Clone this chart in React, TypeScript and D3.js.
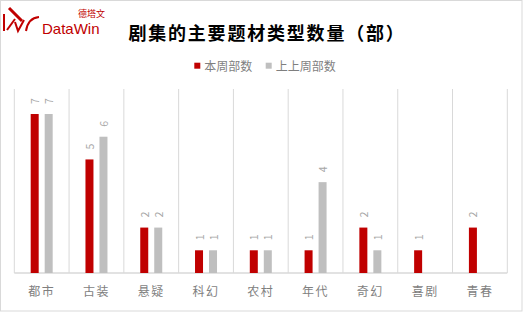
import React from "react";
import * as d3 from "d3";

const categories = ["都市", "古装", "悬疑", "科幻", "农村", "年代", "奇幻", "喜剧", "青春"];
const thisWeek = [7, 5, 2, 1, 1, 1, 2, 1, 2];
const prevWeek = [7, 6, 2, 1, 1, 4, 1, 0, 0];
const seriesNames = ["本周部数", "上上周部数"];
const seriesColors = ["#c00000", "#bfbfbf"];
const title = "剧集的主要题材类型数量（部）";

const W = 523;
const H = 312;
const plotLeft = 14.3;
const plotRight = 507.3;
const plotBottom = 273;
const plotTopValue = 91.3;
const gridTop = 89;

export default function App() {
  const x = d3.scaleBand<string>().domain(categories).range([plotLeft, plotRight]).padding(0);
  const y = d3.scaleLinear().domain([0, 8]).range([plotBottom, plotTopValue]);
  const bw = 8;
  const gap = 3;
  const series = [thisWeek, prevWeek];
  const font = "'Noto Sans CJK SC', 'Noto Sans', sans-serif";

  return (
    <svg
      width={W}
      height={H}
      style={{ position: "absolute", left: 0, top: 0, background: "#fff" }}
      fontFamily={font}
    >
      <rect x={0.5} y={0.5} width={W - 1.5} height={H - 1.5} fill="#fff" stroke="#d9d9d9" />
      {/* logo */}
      <g stroke="#c00000" fill="none" strokeLinecap="butt">
        <path d="M4,14 L4,31" strokeWidth={2} />
        <path d="M9,8 L22,21" strokeWidth={3} />
        <path d="M7,30 L15,19" strokeWidth={2} />
        <path d="M15,22 L18,31 L24,20" strokeWidth={2} />
        <path d="M26,31 Q28,18 39,17" strokeWidth={2} />
      </g>
      <text x={42} y={33.8} fill="#c00000" fontSize={15} fontFamily="'Liberation Sans', Arial, sans-serif">
        DataWin
      </text>
      <text x={105} y={17.3} textAnchor="end" fill="#c00000" fontSize={9}>
        德塔文
      </text>

      <text
        x={267}
        y={39.5}
        textAnchor="middle"
        fontSize={18}
        fontWeight="bold"
        fill="#000"
        letterSpacing={1.8}
      >
        {title}
      </text>

      {/* legend */}
      {[0, 1].map((i) => {
        const lx = i === 0 ? 194.3 : 265.7;
        return (
          <g key={i}>
            <rect x={lx} y={62.7} width={6} height={6} fill={seriesColors[i]} />
            <text x={lx + 10} y={70.5} fontSize={12} fill="#7f7f7f">
              {seriesNames[i]}
            </text>
          </g>
        );
      })}

      {/* gridlines */}
      {categories.concat(["__end"]).map((c, i) => {
        const gx = i < categories.length ? (x(c) as number) : plotRight;
        return (
          <line key={i} x1={gx} x2={gx} y1={gridTop} y2={plotBottom} stroke="#d9d9d9" strokeWidth={1} />
        );
      })}
      <line x1={plotLeft} x2={plotRight} y1={plotBottom} y2={plotBottom} stroke="#d9d9d9" strokeWidth={1.5} />

      {/* bars */}
      {categories.map((c, ci) => {
        const cx = (x(c) as number) + x.bandwidth() / 2;
        return (
          <g key={c}>
            {series.map((s, si) => {
              const v = s[ci];
              if (!v) return null;
              const bx = si === 0 ? cx - gap - bw : cx + gap;
              const top = y(v);
              const lx = bx + bw / 2;
              const ly = top - 10;
              return (
                <g key={si}>
                  <rect x={bx} y={top} width={bw} height={plotBottom - top} fill={seriesColors[si]} />
                  <text
                    x={lx}
                    y={ly}
                    transform={`rotate(-90 ${lx} ${ly})`}
                    dominantBaseline="central"
                    fontSize={10.5}
                    fill="#a6a6a6"
                  >
                    {v}
                  </text>
                </g>
              );
            })}
            <text x={cx} y={296} textAnchor="middle" fontSize={12} fill="#7f7f7f" letterSpacing={1.5}>
              {c}
            </text>
          </g>
        );
      })}
    </svg>
  );
}
